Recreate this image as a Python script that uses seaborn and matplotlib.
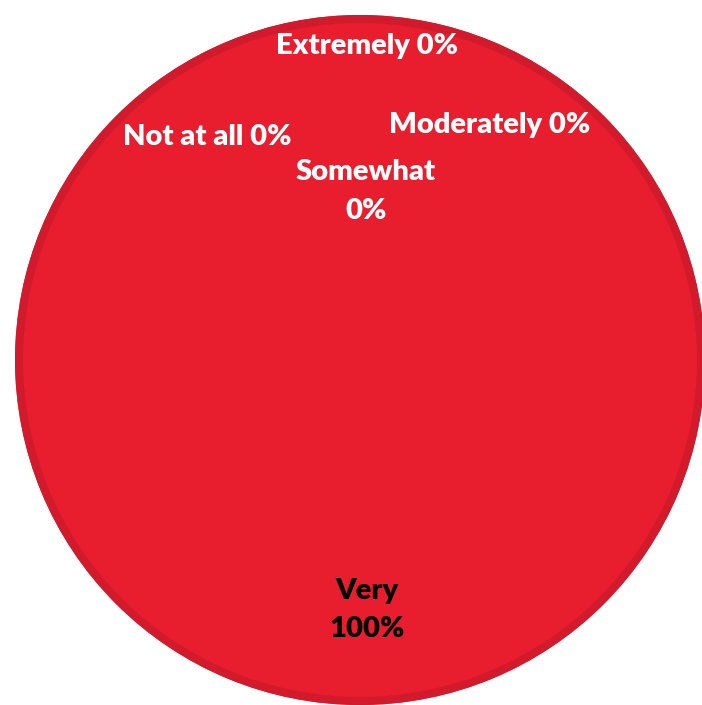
import matplotlib
matplotlib.use("Agg")
import matplotlib.pyplot as plt
import seaborn as sns
from matplotlib.patches import Circle

categories = ["Not at all", "Somewhat", "Moderately", "Very", "Extremely"]
values = [0, 0, 0, 100, 0]
label_texts = ["Not at all 0%", "Somewhat\n0%", "Moderately 0%", "Very\n100%", "Extremely 0%"]

sns.set_theme(style="white")
plt.rcParams['font.family'] = ['Lato', 'DejaVu Sans']

W, H = 702, 705
fig = plt.figure(figsize=(W / 100, H / 100), dpi=100)
ax = fig.add_axes([0, 0, 1, 1])

R = 345.0
cx, cy = 360.0, 360.0

fill = "#E81D2D"
rim = "#D11A2B"
colors = [fill] * len(values)
wedges, _ = ax.pie(values, colors=colors, radius=1.0, startangle=90, counterclock=False,
                   wedgeprops=dict(linewidth=0), frame=False)
ax.set_xlim(-cx / R, (W - cx) / R)
ax.set_ylim(-(H - cy) / R, cy / R)
ax.set_aspect('equal')
ax.axis('off')

lw_px = 8
ax.add_patch(Circle((0, 0), 1.0 - lw_px / 2 / R, fill=False, edgecolor=rim,
                    linewidth=lw_px * 72 / 100))

pos = {
    "Not at all": (-0.443, 0.645),
    "Somewhat": (0.017, 0.488),
    "Moderately": (0.377, 0.681),
    "Very": (0.02, -0.725),
    "Extremely": (0.02, 0.911),
}
for cat, txt, v in zip(categories, label_texts, values):
    x, y = pos[cat]
    color = "black" if v > 0 else "white"
    ax.text(x, y, txt, ha="center", va="center", fontsize=21, fontweight="heavy",
            color=color, linespacing=1.6)

fig.savefig("out.png", dpi=100)
